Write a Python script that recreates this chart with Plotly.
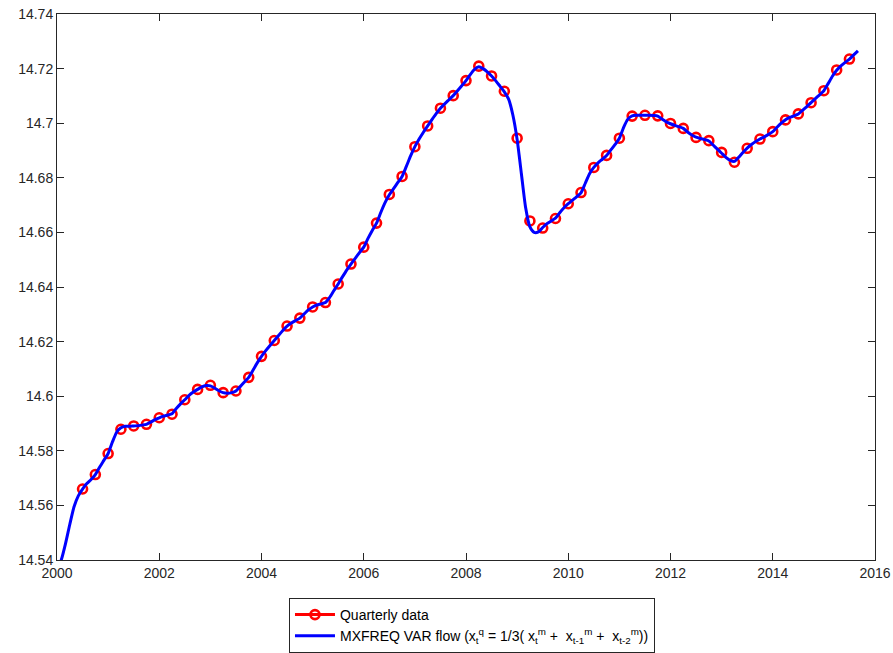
import plotly.graph_objects as go

# Quarterly data (first quarter point at 2000.5, step 0.25 year)
q_start = 2000.5
q_values = [
    14.5660, 14.5713, 14.5790, 14.5879, 14.5891, 14.5897, 14.5921, 14.5934,
    14.5987, 14.6025, 14.6040, 14.6013, 14.6019, 14.6069, 14.6146, 14.6204,
    14.6257, 14.6286, 14.6327, 14.6343, 14.6411, 14.6484, 14.6546, 14.6634,
    14.6739, 14.6805, 14.6914, 14.6990, 14.7055, 14.7101, 14.7156, 14.7209,
    14.7173, 14.7117, 14.6945, 14.6642, 14.6616, 14.6651, 14.6705, 14.6746,
    14.6838, 14.6882, 14.6945, 14.7026, 14.7029, 14.7027, 14.6999, 14.6981,
    14.6948, 14.6936, 14.6893, 14.6857, 14.6908, 14.6942, 14.6969, 14.7012,
    14.7034, 14.7075, 14.7119, 14.7195, 14.7235,
]

# Monthly MXFREQ VAR flow (first month at 2000.0, step 1/12 year)
m_start = 2000.0
m_values = [
    14.5360, 14.5400, 14.5460, 14.5530, 14.5595, 14.5635, 14.5660, 14.5680,
    14.5695, 14.5713, 14.5740, 14.5765, 14.5790, 14.5832, 14.5868, 14.5884,
    14.5890, 14.5890, 14.5891, 14.5892, 14.5894, 14.5897, 14.5905, 14.5914,
    14.5921, 14.5927, 14.5931, 14.5936, 14.5955, 14.5972, 14.5987, 14.6003,
    14.6015, 14.6025, 14.6034, 14.6039, 14.6038, 14.6030, 14.6020, 14.6013,
    14.6011, 14.6013, 14.6019, 14.6035, 14.6052, 14.6069, 14.6095, 14.6122,
    14.6146, 14.6167, 14.6186, 14.6204, 14.6222, 14.6241, 14.6257, 14.6268,
    14.6277, 14.6286, 14.6301, 14.6316, 14.6327, 14.6334, 14.6338, 14.6343,
    14.6362, 14.6387, 14.6411, 14.6437, 14.6462, 14.6484, 14.6505, 14.6526,
    14.6546, 14.6578, 14.6607, 14.6634, 14.6673, 14.6709, 14.6738, 14.6760,
    14.6783, 14.6805, 14.6842, 14.6880, 14.6914, 14.6942, 14.6967, 14.6990,
    14.7013, 14.7035, 14.7055, 14.7071, 14.7086, 14.7101, 14.7119, 14.7137,
    14.7156, 14.7178, 14.7197, 14.7207, 14.7200, 14.7188, 14.7173, 14.7155,
    14.7135, 14.7115, 14.7088, 14.7030, 14.6940, 14.6815, 14.6690, 14.6620,
    14.6600, 14.6602, 14.6618, 14.6632, 14.6642, 14.6652, 14.6672, 14.6690,
    14.6705, 14.6718, 14.6731, 14.6745, 14.6780, 14.6815, 14.6838, 14.6855,
    14.6868, 14.6882, 14.6902, 14.6922, 14.6945, 14.6985, 14.7015, 14.7027,
    14.7029, 14.7029, 14.7029, 14.7029, 14.7028, 14.7026, 14.7015, 14.7005,
    14.6998, 14.6992, 14.6987, 14.6981, 14.6968, 14.6957, 14.6949, 14.6944,
    14.6940, 14.6935, 14.6920, 14.6905, 14.6890, 14.6875, 14.6864, 14.6860,
    14.6875, 14.6893, 14.6909, 14.6922, 14.6933, 14.6942, 14.6950, 14.6959,
    14.6969, 14.6985, 14.7000, 14.7013, 14.7021, 14.7027, 14.7034, 14.7047,
    14.7061, 14.7075, 14.7090, 14.7104, 14.7119, 14.7145, 14.7172, 14.7194,
    14.7210, 14.7223, 14.7235, 14.7250, 14.7265,
]

x_ticks = [2000, 2002, 2004, 2006, 2008, 2010, 2012, 2014, 2016]
x_ticklabels = ["2000", "2002", "2004", "2006", "2008", "2010", "2012", "2014", "2016"]
y_ticks = [14.54, 14.56, 14.58, 14.60, 14.62, 14.64, 14.66, 14.68, 14.70, 14.72, 14.74]
y_ticklabels = ["14.54", "14.56", "14.58", "14.6", "14.62", "14.64", "14.66", "14.68", "14.7", "14.72", "14.74"]

q_x = [q_start + 0.25 * i for i in range(len(q_values))]
m_x = [m_start + i / 12.0 for i in range(len(m_values))]

label_q = "Quarterly data"
label_m = ("MXFREQ VAR flow (x<sub>t</sub><sup>q</sup> = 1/3( x<sub>t</sub><sup>m</sup> +  "
           "x<sub>t-1</sub><sup>m</sup> +  x<sub>t-2</sub><sup>m</sup>))")

RED = "#FF0000"
BLUE = "#0000FF"
AX = "#262626"
FONT = "Liberation Sans, Arial, Helvetica, sans-serif"

fig = go.Figure()
fig.add_trace(go.Scatter(
    x=q_x, y=q_values, mode="markers", showlegend=False,
    marker=dict(symbol="circle-open", size=9, color=RED, line=dict(width=2.6, color=RED)),
))
fig.add_trace(go.Scatter(
    x=m_x, y=m_values, mode="lines", showlegend=False,
    line=dict(color=BLUE, width=3, shape="spline", smoothing=0.6),
))
# legend entries
fig.add_trace(go.Scatter(
    x=[None], y=[None], mode="lines+markers", name=label_q,
    line=dict(color=RED, width=3),
    marker=dict(symbol="circle-open", size=9, color=RED, line=dict(width=2.6, color=RED)),
))
fig.add_trace(go.Scatter(
    x=[None], y=[None], mode="lines", name=label_m,
    line=dict(color=BLUE, width=3),
))

axis_common = dict(
    showline=True, linecolor=AX, linewidth=1, mirror="ticks",
    ticks="inside", ticklen=7, tickwidth=1, tickcolor=AX,
    showgrid=False, zeroline=False, automargin=False,
    tickfont=dict(family=FONT, size=14, color=AX),
)
fig.update_xaxes(range=[2000, 2016], tickvals=x_ticks, ticktext=x_ticklabels, **axis_common)
fig.update_yaxes(range=[14.54, 14.74], tickvals=y_ticks, ticktext=y_ticklabels, **axis_common)

fig.update_layout(
    width=893, height=653,
    margin=dict(l=57, r=18, t=14, b=93, autoexpand=False),
    paper_bgcolor="white", plot_bgcolor="white",
    font=dict(family=FONT, size=14, color="black"),
    legend=dict(
        x=0.2836, y=-0.0696, xanchor="left", yanchor="top",
        bgcolor="white", bordercolor=AX, borderwidth=1,
        font=dict(family=FONT, size=14, color="black"),
        itemwidth=40, tracegroupgap=0,
    ),
)

fig.write_html(
    "out.html",
    config={"displayModeBar": False},
    post_script="document.body.style.margin='0';document.body.style.overflow='hidden';",
)
